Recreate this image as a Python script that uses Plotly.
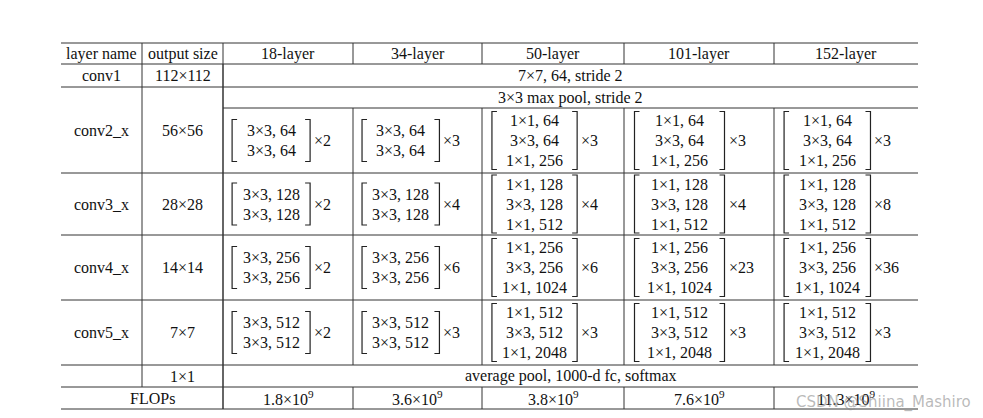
import plotly.graph_objects as go

# table content
headers = ['layer name', 'output size', '18-layer', '34-layer', '50-layer', '101-layer', '152-layer']
layer_names = ['conv1', 'conv2_x', 'conv3_x', 'conv4_x', 'conv5_x', '', '']
output_sizes = ['112×112', '56×56', '28×28', '14×14', '7×7', '1×1', '']
conv1_text = '7×7, 64, stride 2'
pool_text = '3×3 max pool, stride 2'
final_text = 'average pool, 1000-d fc, softmax'
flops_label = 'FLOPs'

basic = {
    'conv2_x': ['3×3, 64', '3×3, 64'],
    'conv3_x': ['3×3, 128', '3×3, 128'],
    'conv4_x': ['3×3, 256', '3×3, 256'],
    'conv5_x': ['3×3, 512', '3×3, 512'],
}
bottleneck = {
    'conv2_x': ['1×1, 64', '3×3, 64', '1×1, 256'],
    'conv3_x': ['1×1, 128', '3×3, 128', '1×1, 512'],
    'conv4_x': ['1×1, 256', '3×3, 256', '1×1, 1024'],
    'conv5_x': ['1×1, 512', '3×3, 512', '1×1, 2048'],
}
repeats = {
    '18-layer': [2, 2, 2, 2],
    '34-layer': [3, 4, 6, 3],
    '50-layer': [3, 4, 6, 3],
    '101-layer': [3, 4, 23, 3],
    '152-layer': [3, 8, 36, 3],
}
flops = ['1.8×10<sup>9</sup>', '3.6×10<sup>9</sup>', '3.8×10<sup>9</sup>',
         '7.6×10<sup>9</sup>', '11.3×10<sup>9</sup>']

# layout of the grid (pixels)
col_x = [60, 141, 222, 352, 481, 623, 773, 917]
row_y = [42, 63, 86, 107, 172, 234, 299, 364, 386, 408]
font = dict(family='Liberation Serif', size=16, color='#111')
off = 7  # page body offset

fig = go.Figure()
shapes = []
ann = []


def hline(y, x0=col_x[0], x1=col_x[-1], w=1):
    shapes.append(dict(type='line', x0=x0, x1=x1, y0=y, y1=y, line=dict(color='#333', width=w)))


def vline(x, y0, y1, w=1):
    shapes.append(dict(type='line', x0=x, x1=x, y0=y0, y1=y1, line=dict(color='#333', width=w)))


def text(x, y, s, anchor='center'):
    ann.append(dict(x=x, y=y, text=s, showarrow=False, font=font, xanchor=anchor, yanchor='middle'))


for k, y in enumerate(row_y):
    if k == 3:
        hline(y, col_x[2], col_x[-1])
    else:
        hline(y)

for x in col_x[1:-1]:
    vline(x, row_y[0], row_y[1])
vline(col_x[1], row_y[1], row_y[8])
vline(col_x[2], row_y[1], row_y[9], 1.5)
for x in col_x[3:-1]:
    vline(x, row_y[3], row_y[7])
    vline(x, row_y[8], row_y[9])

for i, h in enumerate(headers):
    text((col_x[i] + col_x[i + 1]) / 2, (row_y[0] + row_y[1]) / 2, h)

mid_all = (col_x[2] + col_x[-1]) / 2
text(mid_all, (row_y[1] + row_y[2]) / 2, conv1_text)
text(mid_all, (row_y[2] + row_y[3]) / 2, pool_text)
text(mid_all, (row_y[7] + row_y[8]) / 2, final_text)

cy = [(row_y[1] + row_y[2]) / 2, (row_y[2] + row_y[4]) / 2] + \
     [(row_y[k] + row_y[k + 1]) / 2 for k in range(4, 9)]
for i in range(7):
    if layer_names[i]:
        text((col_x[0] + col_x[1]) / 2, cy[i], layer_names[i])
    if output_sizes[i]:
        text((col_x[1] + col_x[2]) / 2, cy[i], output_sizes[i])
text((col_x[0] + col_x[2]) / 2 + 10, cy[6], flops_label)

stages = ['conv2_x', 'conv3_x', 'conv4_x', 'conv5_x']
for c, name in enumerate(headers[2:]):
    left, right = col_x[c + 2], col_x[c + 3]
    w = right - left
    center = left + 0.37 * w
    half = 0.3 * w
    for s, st in enumerate(stages):
        lines = basic[st] if c < 2 else bottleneck[st]
        ymid = (row_y[s + 3] + row_y[s + 4]) / 2
        n = len(lines)
        for k, t in enumerate(lines):
            text(center, ymid + (k - (n - 1) / 2) * 20, t)
        hh = 21 if n == 2 else 29
        bl, br = center - half, center + half
        shapes.append(dict(type='path', path=f'M {bl+5},{ymid-hh} L {bl},{ymid-hh} L {bl},{ymid+hh} L {bl+5},{ymid+hh}',
                           line=dict(color='#222', width=1.2)))
        shapes.append(dict(type='path', path=f'M {br-5},{ymid-hh} L {br},{ymid-hh} L {br},{ymid+hh} L {br-5},{ymid+hh}',
                           line=dict(color='#222', width=1.2)))
        text(br + 2, ymid, '×' + str(repeats[name][s]), anchor='left')
    text((left + right) / 2, cy[6], flops[c])

ann.append(dict(x=972, y=401, text='CSDN @Shiina_Mashiro', showarrow=False, xanchor='right', yanchor='middle',
                font=dict(family='DejaVu Sans', size=15, color='rgba(140,140,140,0.6)')))

fig.update_layout(
    width=983, height=418, margin=dict(l=0, r=0, t=0, b=0),
    paper_bgcolor='white', plot_bgcolor='white',
    xaxis=dict(range=[off, 983 + off], visible=False, fixedrange=True),
    yaxis=dict(range=[418 + off, off], visible=False, fixedrange=True),
    shapes=shapes, annotations=ann, showlegend=False,
)
fig.write_html('out.html')
